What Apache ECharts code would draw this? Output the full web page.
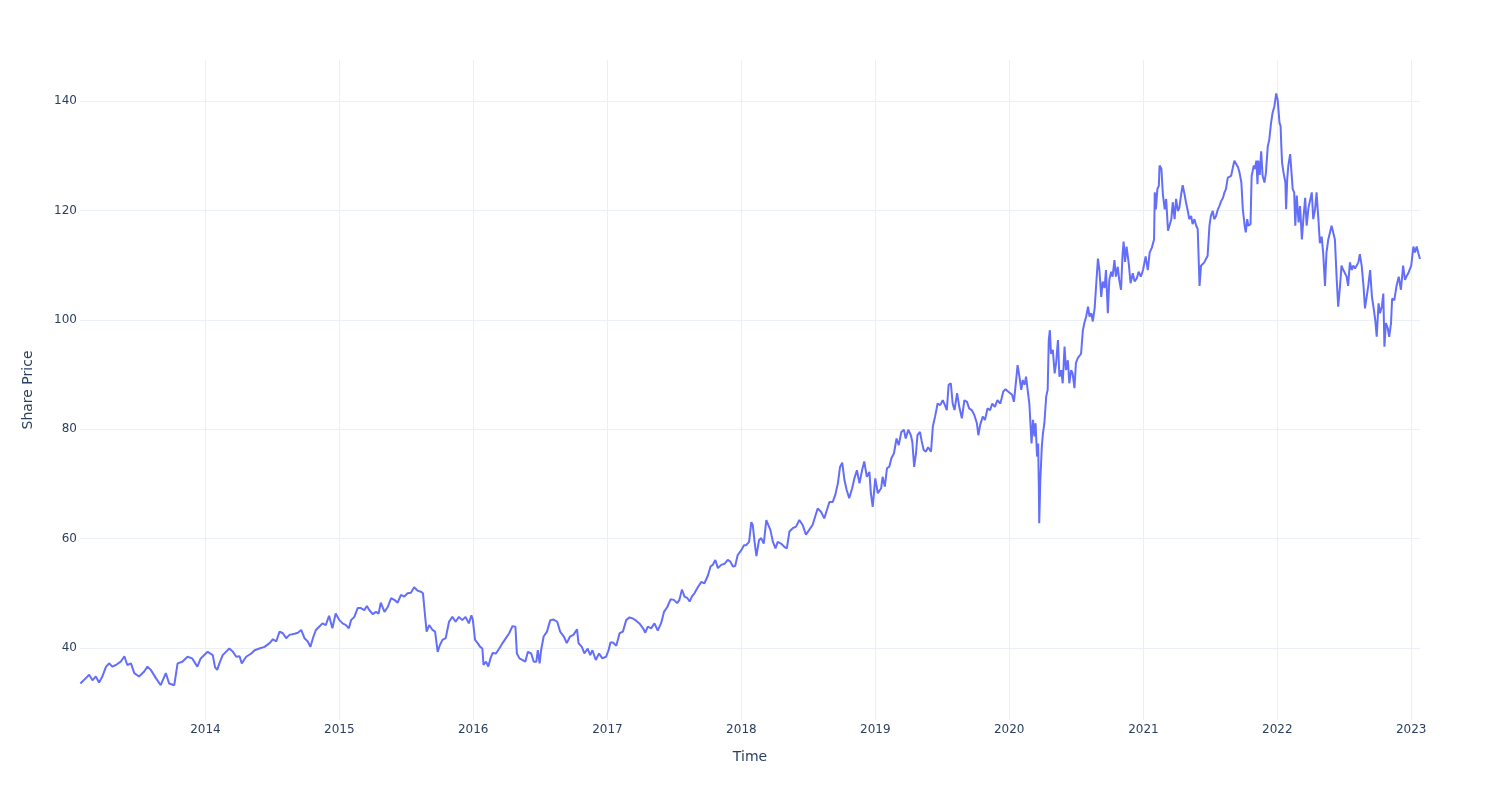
<!DOCTYPE html>
<html><head><meta charset="utf-8">
<script src="https://cdn.jsdelivr.net/npm/echarts@6/dist/echarts.min.js"></script>
<style>html,body{margin:0;padding:0;background:#fff}#c{width:1500px;height:800px}</style>
</head><body><div id="c"></div>
<script>
const dates = [
'2013-01-25','2013-02-09','2013-02-18','2013-02-27','2013-03-08','2013-03-17','2013-03-26','2013-04-05','2013-04-14','2013-04-22','2013-05-02','2013-05-15','2013-05-25','2013-06-02','2013-06-12','2013-06-21','2013-07-04','2013-07-18','2013-07-27','2013-08-05','2013-08-19','2013-09-01','2013-09-15','2013-09-24','2013-10-08','2013-10-17','2013-10-30','2013-11-13','2013-11-26','2013-12-10','2013-12-19',
'2014-01-07','2014-01-12','2014-01-21','2014-01-27','2014-02-02','2014-02-08','2014-02-17','2014-02-26','2014-03-07','2014-03-17','2014-03-26','2014-04-04','2014-04-10','2014-04-22','2014-05-06','2014-05-15','2014-05-28','2014-06-11','2014-06-25','2014-07-04','2014-07-13','2014-07-22','2014-07-31','2014-08-09','2014-08-18','2014-09-01','2014-09-10','2014-09-19','2014-09-28','2014-10-07','2014-10-14','2014-10-21','2014-10-29','2014-11-07','2014-11-16','2014-11-25','2014-12-04','2014-12-13','2014-12-22',
'2015-01-01','2015-01-10','2015-01-19','2015-01-27','2015-02-02','2015-02-11','2015-02-20','2015-03-01','2015-03-10','2015-03-17','2015-03-24','2015-04-02','2015-04-11','2015-04-18','2015-04-24','2015-05-04','2015-05-13','2015-05-22','2015-05-31','2015-06-09','2015-06-18','2015-06-27','2015-07-06','2015-07-15','2015-07-24','2015-08-02','2015-08-11','2015-08-17','2015-08-23','2015-08-27','2015-09-03','2015-09-12','2015-09-19','2015-09-26','2015-10-02','2015-10-09','2015-10-18','2015-10-27','2015-11-05','2015-11-14','2015-11-23','2015-12-02','2015-12-11','2015-12-20','2015-12-27','2015-12-31',
'2016-01-06','2016-01-13','2016-01-20','2016-01-26','2016-01-29','2016-02-05','2016-02-11','2016-02-17','2016-02-23','2016-03-03','2016-03-12','2016-03-21','2016-03-30','2016-04-08','2016-04-17','2016-04-25','2016-04-29','2016-05-06','2016-05-15','2016-05-22','2016-05-29','2016-06-07','2016-06-14','2016-06-21','2016-06-25','2016-06-30','2016-07-04','2016-07-11','2016-07-20','2016-07-29','2016-08-07','2016-08-17','2016-08-25','2016-09-04','2016-09-12','2016-09-21','2016-09-30','2016-10-10','2016-10-14','2016-10-23','2016-10-30','2016-11-08','2016-11-15','2016-11-21','2016-11-30','2016-12-09','2016-12-18','2016-12-28',
'2017-01-04','2017-01-09','2017-01-16','2017-01-25','2017-02-03','2017-02-12','2017-02-21','2017-03-02','2017-03-11','2017-03-20','2017-03-29','2017-04-08','2017-04-14','2017-04-21','2017-04-30','2017-05-09','2017-05-18','2017-05-27','2017-06-04','2017-06-13','2017-06-22','2017-07-01','2017-07-10','2017-07-16','2017-07-23','2017-07-30','2017-08-07','2017-08-13','2017-08-19','2017-08-26','2017-09-05','2017-09-14','2017-09-22','2017-10-02','2017-10-09','2017-10-15','2017-10-22','2017-10-29','2017-11-07','2017-11-16','2017-11-25','2017-12-02','2017-12-09','2017-12-15','2017-12-22',
'2018-01-01','2018-01-08','2018-01-14','2018-01-22','2018-01-28','2018-02-01','2018-02-06','2018-02-11','2018-02-18','2018-02-24','2018-03-03','2018-03-10','2018-03-14','2018-03-21','2018-03-28','2018-04-04','2018-04-10','2018-04-19','2018-04-28','2018-05-05','2018-05-12','2018-05-21','2018-05-30','2018-06-08','2018-06-17','2018-06-26','2018-07-05','2018-07-14','2018-07-21','2018-07-28','2018-08-06','2018-08-15','2018-08-22','2018-08-29','2018-09-07','2018-09-14','2018-09-21','2018-09-27','2018-10-03','2018-10-09','2018-10-15','2018-10-22','2018-10-30','2018-11-05','2018-11-12','2018-11-19','2018-11-26','2018-12-02','2018-12-09','2018-12-16','2018-12-20','2018-12-25',
'2019-01-01','2019-01-08','2019-01-17','2019-01-21','2019-01-27','2019-02-02','2019-02-08','2019-02-14','2019-02-21','2019-02-28','2019-03-06','2019-03-13','2019-03-20','2019-03-25','2019-04-01','2019-04-08','2019-04-12','2019-04-17','2019-04-22','2019-04-26','2019-05-03','2019-05-07','2019-05-13','2019-05-19','2019-05-25','2019-06-02','2019-06-07','2019-06-13','2019-06-20','2019-06-27','2019-07-04','2019-07-10','2019-07-15','2019-07-20','2019-07-26','2019-07-31','2019-08-05','2019-08-12','2019-08-18','2019-08-25','2019-09-01','2019-09-08','2019-09-14','2019-09-21','2019-09-28','2019-10-05','2019-10-09','2019-10-14','2019-10-21','2019-10-27','2019-11-03','2019-11-10','2019-11-16','2019-11-23','2019-11-30','2019-12-08','2019-12-16','2019-12-22','2019-12-29',
'2020-01-02','2020-01-09','2020-01-14','2020-01-20','2020-01-24','2020-01-29','2020-02-03','2020-02-07','2020-02-12','2020-02-16','2020-02-21','2020-02-25','2020-02-28','2020-03-02','2020-03-06','2020-03-10','2020-03-13','2020-03-17','2020-03-20','2020-03-22','2020-03-23','2020-03-26','2020-03-30','2020-04-02','2020-04-06','2020-04-11','2020-04-15','2020-04-18','2020-04-21','2020-04-24','2020-04-29','2020-05-04','2020-05-08','2020-05-13','2020-05-17','2020-05-22','2020-05-26','2020-05-31','2020-06-04','2020-06-09','2020-06-13','2020-06-18','2020-06-22','2020-06-27','2020-07-01','2020-07-06','2020-07-10','2020-07-15','2020-07-20','2020-07-24','2020-07-29','2020-08-03','2020-08-07','2020-08-12','2020-08-16','2020-08-21','2020-08-25','2020-08-30','2020-09-03','2020-09-08','2020-09-12','2020-09-17','2020-09-21','2020-09-26','2020-09-30','2020-10-05','2020-10-09','2020-10-14','2020-10-18','2020-10-23','2020-10-27','2020-11-01','2020-11-05','2020-11-08','2020-11-12','2020-11-16','2020-11-22','2020-11-27','2020-12-03','2020-12-08','2020-12-14','2020-12-19','2020-12-25','2020-12-31',
'2021-01-07','2021-01-13','2021-01-18','2021-01-24','2021-01-30','2021-02-01','2021-02-04','2021-02-08','2021-02-12','2021-02-14','2021-02-19','2021-02-23','2021-02-28','2021-03-04','2021-03-09','2021-03-13','2021-03-18','2021-03-22','2021-03-27','2021-03-31','2021-04-05','2021-04-09','2021-04-14','2021-04-18','2021-04-23','2021-04-27','2021-05-02','2021-05-06','2021-05-11','2021-05-15','2021-05-20','2021-05-25','2021-05-29','2021-06-03','2021-06-07','2021-06-12','2021-06-16','2021-06-21','2021-06-25','2021-06-30','2021-07-04','2021-07-09','2021-07-13','2021-07-18','2021-07-23','2021-07-27','2021-08-01','2021-08-06','2021-08-10','2021-08-14','2021-08-19','2021-08-24','2021-08-28','2021-09-02','2021-09-06','2021-09-11','2021-09-16','2021-09-20','2021-09-25','2021-09-29','2021-10-04','2021-10-07','2021-10-11','2021-10-14','2021-10-20','2021-10-23','2021-10-29','2021-11-01','2021-11-05','2021-11-08','2021-11-10','2021-11-14','2021-11-18','2021-11-22','2021-11-27','2021-12-01','2021-12-06','2021-12-10','2021-12-15','2021-12-19','2021-12-24','2021-12-29',
'2022-01-02','2022-01-07','2022-01-10','2022-01-12','2022-01-14','2022-01-18','2022-01-23','2022-01-25','2022-01-28','2022-01-31','2022-02-05','2022-02-10','2022-02-12','2022-02-16','2022-02-19','2022-02-23','2022-02-28','2022-03-04','2022-03-09','2022-03-13','2022-03-18','2022-03-22','2022-03-27','2022-03-31','2022-04-05','2022-04-09','2022-04-14','2022-04-18','2022-04-23','2022-04-27','2022-05-02','2022-05-06','2022-05-11','2022-05-15','2022-05-20','2022-05-25','2022-05-29','2022-06-03','2022-06-07','2022-06-12','2022-06-16','2022-06-21','2022-06-25','2022-06-30','2022-07-04','2022-07-09','2022-07-13','2022-07-18','2022-07-23','2022-07-27','2022-08-01','2022-08-06','2022-08-10','2022-08-14','2022-08-19','2022-08-24','2022-08-28','2022-09-02','2022-09-06','2022-09-11','2022-09-16','2022-09-20','2022-09-25','2022-09-29','2022-10-04','2022-10-08','2022-10-13','2022-10-17','2022-10-20','2022-10-24','2022-10-29','2022-11-02','2022-11-07','2022-11-10','2022-11-16','2022-11-22','2022-11-28','2022-12-04','2022-12-10','2022-12-15','2022-12-19','2022-12-24',
'2023-01-01','2023-01-07','2023-01-11','2023-01-16','2023-01-20','2023-01-25'
];
const prices = [
33.5,34.5,35.1,34.1,34.8,33.7,34.8,36.6,37.2,36.6,36.9,37.5,38.5,36.9,37.2,35.4,34.8,35.7,36.6,36.0,34.5,33.2,35.4,33.5,33.2,37.2,37.5,38.4,38.1,36.6,38.1,
39.3,39.5,38.7,36.5,36.0,37.2,38.7,39.3,39.9,39.3,38.4,38.5,37.2,38.4,39.0,39.6,39.9,40.2,40.9,41.6,41.2,43.0,42.7,41.8,42.4,42.6,42.8,43.3,41.8,41.2,40.2,41.8,43.3,43.9,44.5,44.2,45.9,43.6,46.3,
45.1,44.5,44.2,43.6,45.1,45.7,47.3,47.3,46.9,47.7,46.9,46.2,46.6,46.3,48.3,46.6,47.5,49.1,48.8,48.3,49.7,49.4,50.0,50.1,51.1,50.5,50.3,50.0,45.7,43.0,44.2,43.3,43.0,39.3,40.5,41.5,41.8,44.8,45.7,44.8,45.7,45.1,45.7,44.5,46.0,45.1,
41.5,40.9,40.2,39.9,36.9,37.5,36.6,38.1,39.1,39.0,39.9,40.9,41.8,42.7,44.0,43.9,39.0,38.1,37.8,37.5,39.3,39.0,37.5,37.5,39.6,37.2,39.6,42.1,43.0,45.1,45.2,44.8,43.0,42.1,40.9,42.1,42.4,43.4,40.9,40.2,39.0,39.9,38.7,39.6,37.8,39.0,38.1,38.4,
39.6,41.0,41.0,40.4,42.7,43.0,45.1,45.6,45.4,45.0,44.5,43.6,42.8,43.9,43.6,44.5,43.2,44.5,46.6,47.5,48.9,48.8,48.2,48.8,50.7,49.4,49.1,48.5,49.4,50.0,51.2,52.1,51.8,53.3,54.9,55.2,56.1,54.6,55.2,55.4,56.1,55.8,54.9,55.0,57.0,
57.9,58.8,58.8,59.4,63.0,62.5,59.4,56.8,59.7,60.1,59.1,63.4,63.4,61.6,59.4,58.2,59.4,59.1,58.5,58.2,61.3,61.9,62.2,63.4,62.5,60.7,61.6,62.5,64.0,65.5,64.9,63.7,65.2,66.7,66.7,68.0,70.1,73.1,73.9,70.7,68.9,67.4,69.2,71.0,72.5,70.1,72.5,74.1,71.3,72.2,68.3,65.8,
71.0,68.3,69.2,71.3,69.5,72.9,73.1,74.7,75.6,78.3,77.1,79.5,79.9,78.3,79.9,78.9,77.7,73.1,75.6,78.9,79.5,78.0,76.2,75.9,76.7,75.9,80.5,82.3,84.7,84.4,85.3,84.4,83.5,88.1,88.4,84.7,83.5,86.6,84.1,82.0,85.3,85.0,83.8,83.5,82.6,81.1,78.9,80.8,82.3,81.7,83.8,83.5,84.7,84.1,85.3,84.7,86.9,87.3,86.9,
86.9,86.3,85.0,89.0,91.7,89.6,87.2,89.0,88.1,89.6,89.3,84.7,81.1,77.4,81.7,78.7,81.1,75.0,77.4,68.9,62.8,70.7,76.8,79.2,81.1,86.0,87.2,96.3,98.1,93.8,94.5,90.2,92.1,96.3,89.6,90.8,88.4,95.1,90.8,92.6,88.4,90.8,90.2,87.5,92.1,93.0,93.3,93.8,98.1,99.4,100.6,102.4,100.6,101.2,99.7,102.1,102.4,111.2,109.1,104.2,107.0,105.8,109.1,101.2,107.3,108.8,107.9,110.9,107.9,109.7,107.3,105.5,111.8,114.3,110.6,113.4,110.3,106.7,108.5,107.0,107.6,108.8,107.9,109.1,
111.6,109.1,112.3,113.2,114.7,123.3,120.2,123.9,124.5,128.2,127.6,123.0,120.2,122.1,116.3,117.2,118.4,121.5,118.4,122.1,119.9,120.5,123.0,124.6,123.0,121.5,119.9,118.4,119.0,117.5,118.4,117.2,116.6,106.2,109.9,110.2,110.5,110.8,111.7,117.2,119.0,119.9,118.4,119.0,120.2,120.8,121.7,122.3,123.3,123.9,126.0,125.7,126.3,127.9,129.1,129.1,127.9,126.9,125.1,120.2,117.2,116.0,118.4,117.2,117.5,126.3,128.2,127.6,129.1,124.8,129.1,126.5,130.8,126.3,125.1,126.9,131.7,132.9,136.0,137.8,139.0,141.4,
140.2,136.0,135.4,131.7,128.7,126.9,125.1,120.2,125.7,128.2,130.3,130.6,123.9,123.3,117.2,122.7,117.8,120.8,114.7,118.4,122.3,117.2,120.5,120.2,123.3,118.4,120.2,123.3,118.4,114.0,115.2,112.3,106.2,112.3,114.7,114.7,117.2,117.5,114.7,107.3,102.4,106.2,109.9,109.1,109.4,107.9,106.2,110.5,109.1,109.9,109.4,109.1,110.5,112.0,109.9,106.2,102.1,102.4,106.2,109.1,104.2,102.4,100.0,96.9,103.0,101.2,102.4,104.8,95.1,99.4,98.5,96.9,99.4,103.9,103.6,106.2,107.9,105.5,109.9,107.3,107.9,108.5,
109.9,113.4,112.3,113.4,112.3,111.1
];
const yTickValues = [40, 60, 80, 100, 120, 140];
const xTickYears = [2014, 2015, 2016, 2017, 2018, 2019, 2020, 2021, 2022, 2023];
const xRange = ['2013-01-24', '2023-01-25'];
const yRange = [26.84, 147.5];
const xTitle = 'Time';
const yTitle = 'Share Price';

function toTime(s) { const p = s.split('-').map(Number); return new Date(p[0], p[1] - 1, p[2]).getTime(); }
const xTicks = xTickYears.map(y => new Date(y, 0, 1).getTime());
const seriesData = dates.map((d, i) => [toTime(d), prices[i]]);
const font = 'DejaVu Sans';
const textColor = '#2a3f5f';
const gridColor = '#EBF0F8';

const chart = echarts.init(document.getElementById('c'), null, {renderer: 'canvas'});
chart.setOption({
  animation: false,
  backgroundColor: '#fff',
  grid: {left: 80, right: 80, top: 60, bottom: 80, containLabel: false},
  xAxis: {
    type: 'value',
    min: toTime(xRange[0]),
    max: toTime(xRange[1]),
    axisLine: {show: false},
    axisTick: {show: false, customValues: xTicks},
    axisLabel: {customValues: xTicks, formatter: v => String(new Date(v).getFullYear()),
      color: textColor, fontFamily: font, fontSize: 12, margin: 4, hideOverlap: false},
    splitLine: {show: true, lineStyle: {color: gridColor, width: 1}},
    name: xTitle, nameLocation: 'middle', nameGap: 30,
    nameTextStyle: {color: textColor, fontFamily: font, fontSize: 14}
  },
  yAxis: {
    type: 'value',
    min: yRange[0], max: yRange[1],
    axisLine: {show: false},
    axisTick: {show: false, customValues: yTickValues},
    axisLabel: {customValues: yTickValues, color: textColor, fontFamily: font, fontSize: 12, margin: 3},
    splitLine: {show: true, lineStyle: {color: gridColor, width: 1}},
    name: yTitle, nameLocation: 'middle', nameGap: 45,
    nameTextStyle: {color: textColor, fontFamily: font, fontSize: 14}
  },
  series: [{
    type: 'line', data: seriesData, showSymbol: false, symbol: 'none',
    lineStyle: {color: '#636efa', width: 2}, itemStyle: {color: '#636efa'}
  }]
});
</script></body></html>
